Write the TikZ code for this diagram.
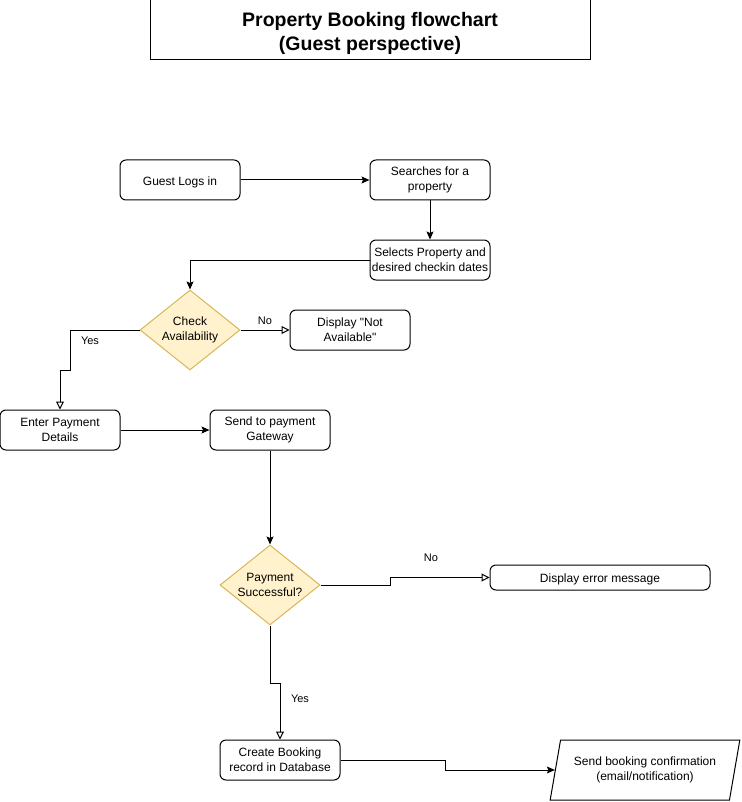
\documentclass[tikz,border=0pt]{standalone}
\usepackage{fontspec}
\setmainfont{Liberation Sans}
\usetikzlibrary{arrows.meta,shapes.geometric}

\definecolor{decfill}{HTML}{FFF2CC}
\definecolor{decdraw}{HTML}{D6B656}

\tikzset{
    stepbox/.style={draw, rounded corners=6pt, line width=1pt, minimum width=120pt, minimum height=40pt, inner sep=1pt, align=center, font=\fontsize{12}{15}\selectfont, execute at begin node={\rule{0pt}{13pt}}},
    decision/.style={diamond, draw=decdraw, fill=decfill, line width=1pt, minimum width=100pt, minimum height=80pt, inner sep=-5pt, align=center, font=\fontsize{12}{15}\selectfont, execute at begin node={\rule{0pt}{13pt}}},
    iobox/.style={trapezium, trapezium left angle=71.57, trapezium right angle=108.43, trapezium stretches=true, draw, line width=1pt, minimum width=190pt, minimum height=60pt, inner sep=0pt, align=center, font=\fontsize{12}{15}\selectfont, execute at begin node={\rule{0pt}{13pt}}},
    flow/.style={line width=1pt, -{Stealth[length=8pt,width=7pt,inset=1.5pt]}},
    branch/.style={line width=1pt, -{Triangle[open,length=8pt,width=8pt]}},
    lbl/.style={font=\fontsize{11}{13}\selectfont}
}

\begin{document}
\begin{tikzpicture}[x=1pt,y=-1pt]
    \useasboundingbox (0,0) rectangle (741,802);

    % title
    \node[draw, line width=1pt, minimum width=440pt, minimum height=60pt] (title) at (370,30) {};
    \node[align=center, font=\bfseries\fontsize{19.5}{24}\selectfont] (titletext) at (370,33)
          {Property Booking flowchart\\(Guest perspective)};

    % steps
    \node[stepbox] (login) at (180,180) {Guest Logs in};
    \node[stepbox] (search) at (430,180) {Searches for a\\property};
    \node[stepbox] (select) at (430,260) {Selects Property and\\desired checkin dates};
    \node[decision] (checkavail) at (190,330) {Check\\Availability};
    \node[stepbox] (notavail) at (350,330) {Display \textquotedbl Not\\Available\textquotedbl};
    \node[stepbox] (payment) at (60,430) {Enter Payment\\Details};
    \node[stepbox] (gateway) at (270,430) {Send to payment\\Gateway};
    \node[decision] (paysuccess) at (270,585) {Payment\\Successful?};
    \node[stepbox, minimum width=220pt, minimum height=25pt] (errormsg) at (600,577.5) {Display error message};
    \node[stepbox] (booking) at (280,760) {Create Booking\\record in Database};
    \node[iobox] (confirm) at (645,770) {Send booking confirmation\\(email/notification)};

    % connectors
    \draw[flow] (login) -- (search);
    \draw[flow] (search) -- (select);
    \draw[flow] (select.west) -| (checkavail.north);
    \draw[branch] (checkavail.east) -- (notavail.west);
    \node[lbl] at (265,321) {No};
    \draw[branch] (checkavail.west) -| (70,370) -| (payment.north);
    \node[lbl] at (90,341) {Yes};
    \draw[flow] (payment) -- (gateway);
    \draw[flow] (gateway.south) -- (paysuccess.north);
    \draw[branch] (paysuccess.east) -- (390,585) |- (errormsg.west);
    \node[lbl] at (431,558) {No};
    \draw[branch] (paysuccess.south) -- (270,683) -| (booking.north);
    \node[lbl] at (300,699) {Yes};
    \draw[flow] (booking.east) -- (445,760) |- (confirm.west);
\end{tikzpicture}
\end{document}
